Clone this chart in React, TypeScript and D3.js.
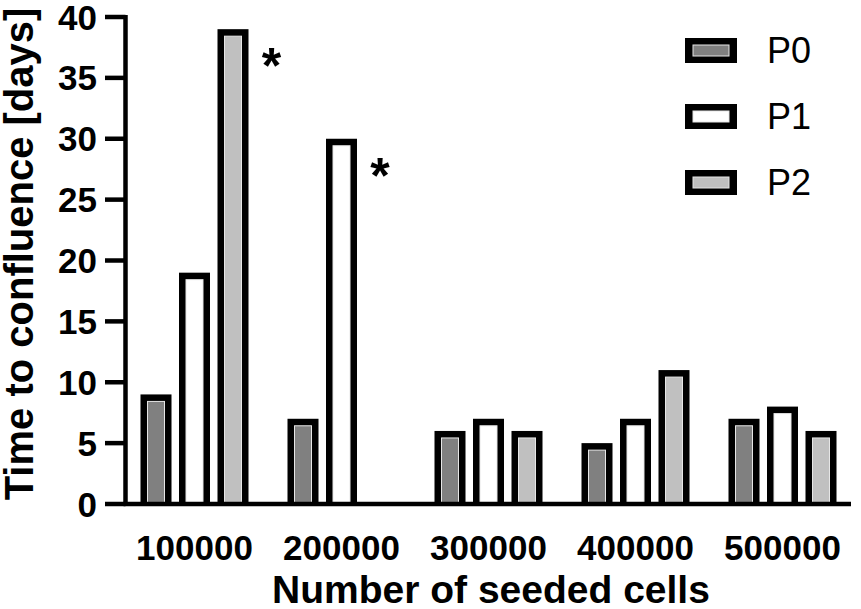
import React from 'react';
import * as d3 from 'd3';

const categories = ['100000', '200000', '300000', '400000', '500000'];
const seriesNames = ['P0', 'P1', 'P2'];
const p0Values = [9, 7, 6, 5, 7];
const p1Values = [19, 30, 7, 7, 8];
const p2Values: (number | null)[] = [39, null, 6, 11, 6];
const yTicks = [0, 5, 10, 15, 20, 25, 30, 35, 40];
const significant = [
  { category: '100000', series: 'P2' },
  { category: '200000', series: 'P1' },
];
const seriesFill: Record<string, string> = { P0: '#808080', P1: '#ffffff', P2: '#c0c0c0' };

const W = 861;
const H = 609;
const FONT = '"Liberation Sans", Arial, Helvetica, sans-serif';

export default function App() {
  const values: Record<string, (number | null)[]> = { P0: p0Values, P1: p1Values, P2: p2Values };
  const y = d3.scaleLinear().domain([0, 40]).range([504, 17]);
  const x0 = d3.scaleBand().domain(categories).range([121, 856]).padding(0);
  const x1 = d3.scalePoint().domain(seriesNames).range([35, 112]);
  const barW = 31;
  const sw = 7;
  const axisX = 125.5;
  const baseY = y(0);

  const bars: any[] = [];
  categories.forEach((c, i) => {
    seriesNames.forEach((s) => {
      const v = values[s][i];
      if (v === null || v === undefined) return;
      const cx = (x0(c) as number) + (x1(s) as number);
      bars.push({ c, s, v, cx });
    });
  });

  return (
    <svg width={W} height={H} style={{ position: 'absolute', left: 0, top: 0, background: '#fff' }} fontFamily={FONT}>
      <rect x={0} y={0} width={W} height={H} fill="#fff" />
      {bars.map((b) => {
        const top = y(b.v);
        const left = b.cx - barW / 2;
        return (
          <g key={b.c + b.s}>
            <rect x={left} y={top} width={barW} height={baseY - top} fill="#000" />
            <rect
              x={left + sw}
              y={top + sw}
              width={barW - 2 * sw}
              height={Math.max(0, baseY - top - sw)}
              fill={seriesFill[b.s]}
              stroke="#e6e6e6"
              strokeWidth={1}
            />
          </g>
        );
      })}
      <line x1={axisX} x2={axisX} y1={y(40) - 2} y2={baseY + 2} stroke="#000" strokeWidth={4.5} />
      <line x1={axisX - 2} x2={851} y1={baseY} y2={baseY} stroke="#000" strokeWidth={4.5} />
      {yTicks.map((t) => (
        <g key={t}>
          <line x1={105} x2={axisX} y1={y(t)} y2={y(t)} stroke="#000" strokeWidth={4.5} />
          <text x={97} y={y(t)} dy="0.36em" textAnchor="end" fontSize={35} fontWeight="bold">
            {t}
          </text>
        </g>
      ))}
      {categories.map((c) => (
        <text
          key={c}
          x={(x0(c) as number) + x0.bandwidth() / 2}
          y={560}
          textAnchor="middle"
          fontSize={35}
          fontWeight="bold"
        >
          {c}
        </text>
      ))}
      <text x={491} y={603} textAnchor="middle" fontSize={39} fontWeight="bold">
        Number of seeded cells
      </text>
      <text transform="translate(33,254) rotate(-90)" textAnchor="middle" fontSize={40} fontWeight="bold">
        Time to confluence [days]
      </text>
      {significant.map((m) => {
        const i = categories.indexOf(m.category);
        const v = values[m.series][i] as number;
        const cx = (x0(m.category) as number) + (x1(m.series) as number);
        return (
          <text key={m.category} x={cx + barW / 2 + 23} y={y(v) + 26 + 28} textAnchor="middle" fontSize={50} fontWeight="bold">
            *
          </text>
        );
      })}
      {seriesNames.map((s, i) => {
        const cy = 50.5 + i * 66;
        return (
          <g key={s}>
            <rect x={685} y={cy - 12.5} width={52} height={25} fill="#000" />
            <rect x={693} y={cy - 5.5} width={36} height={11} fill={seriesFill[s]} stroke="#e6e6e6" strokeWidth={1} />
            <text x={767} y={cy + 12.5} fontSize={36}>
              {s}
            </text>
          </g>
        );
      })}
    </svg>
  );
}
